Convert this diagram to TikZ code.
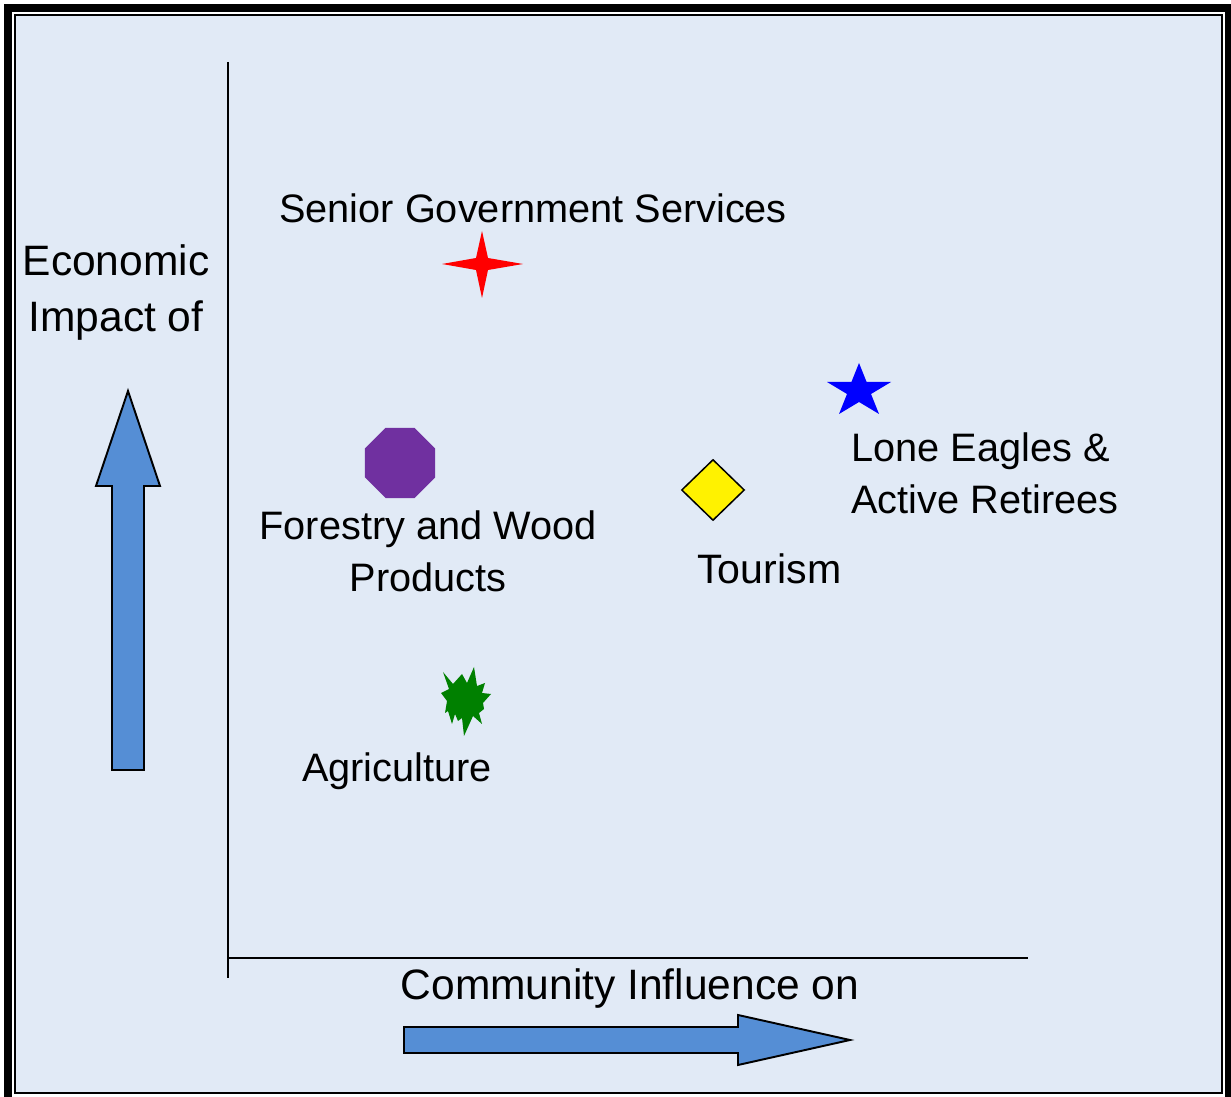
\documentclass[tikz,border=0pt]{standalone}
\usepackage{fontspec}
\setmainfont{Liberation Sans}
\usetikzlibrary{shapes.geometric}
\definecolor{bgblue}{RGB}{225,234,246}
\definecolor{arrowblue}{RGB}{85,142,213}
\definecolor{octpurple}{RGB}{112,48,160}
\definecolor{burstgreen}{RGB}{0,128,0}
\begin{document}
\begin{tikzpicture}[x=0.02cm, y=-0.02cm]
       \tikzset{lbl/.style={font=\fontsize{22.6}{30}\selectfont, inner sep=0pt},
                axislbl/.style={font=\fontsize{24.2}{32.4}\selectfont, inner sep=0pt},
                blockarrow/.style={draw, line width=1.1pt, fill=arrowblue, line join=miter},
                axis/.style={line width=0.85pt}}
       \useasboundingbox (0,0) rectangle (1231,1097);
       \clip (0,0) rectangle (1231,1097);
       \fill[white] (0,0) rectangle (1231,1097);
       \draw[line width=4.55pt] (8,8) rectangle (1229,1101);
       \draw[line width=1.1pt, fill=bgblue] (15,15) rectangle (1222,1093);

       \coordinate (o) at (228,958);
       \coordinate (yt) at (228,62);
       \coordinate (yb) at (228,978);
       \coordinate (xe) at (1028,958);
       \draw[axis] (yt) -- (yb);
       \draw[axis] (o) -- (xe);

       \draw[blockarrow] (112,770) -- (112,486) -- (96,486) -- (128,391) -- (160,486) -- (144,486) -- (144,770) -- cycle;
       \draw[blockarrow] (404,1027) -- (738,1027) -- (738,1015) -- (850,1040) -- (738,1065) -- (738,1053) -- (404,1053) -- cycle;

       \fill[red] (442,264) -- (476,258) -- (482,231) -- (488,258) -- (523,264) -- (488,270) -- (482,298) -- (476,270) -- cycle;
       \node[regular polygon, regular polygon sides=8, minimum size=1.516cm, inner sep=0pt, fill=octpurple] (woodmark) at (400,463) {};
       \node[diamond, draw, line width=0.85pt, fill=yellow, minimum width=1.26cm, minimum height=1.22cm, inner sep=0pt] (tourmark) at (713,490) {};
       \fill[blue] (859,363) -- (866.6,382) -- (891,382) -- (871,394) -- (879,414) -- (859,402) -- (839,414) -- (847,394) -- (827,382) -- (851.4,382) -- cycle;
       \fill[burstgreen] (443,672) -- (453,684) -- (462,674) -- (467,683) -- (474,667) -- (477,686) -- (485,683) -- (482,693) -- (491,694) -- (483,703) -- (484,709) -- (479,713) -- (482,724) -- (473,716) -- (464,736) -- (462,718) -- (458,721) -- (455,714) -- (452,724) -- (448,711) -- (445,713) -- (447,701) -- (441,693) -- (449,689) -- cycle;

       \node[axislbl, anchor=base, align=center] (econ) at (116,332) {Economic\\Impact of};
       \node[lbl, anchor=base west] (gov) at (279,223) {Senior Government Services};
       \node[lbl, anchor=base, align=center] (wood) at (428,592) {Forestry and Wood\\Products};
       \node[lbl, anchor=base west, align=left] (eagles) at (851,514) {Lone Eagles \&\\Active Retirees};
       \node[lbl, anchor=base west, font=\fontsize{23.4}{30}\selectfont] (tour) at (697,584) {Tourism};
       \node[lbl, anchor=base] (agri) at (397,782) {Agriculture};
       \node[axislbl, anchor=base] (comm) at (630,999) {Community Influence on};
\end{tikzpicture}
\end{document}
